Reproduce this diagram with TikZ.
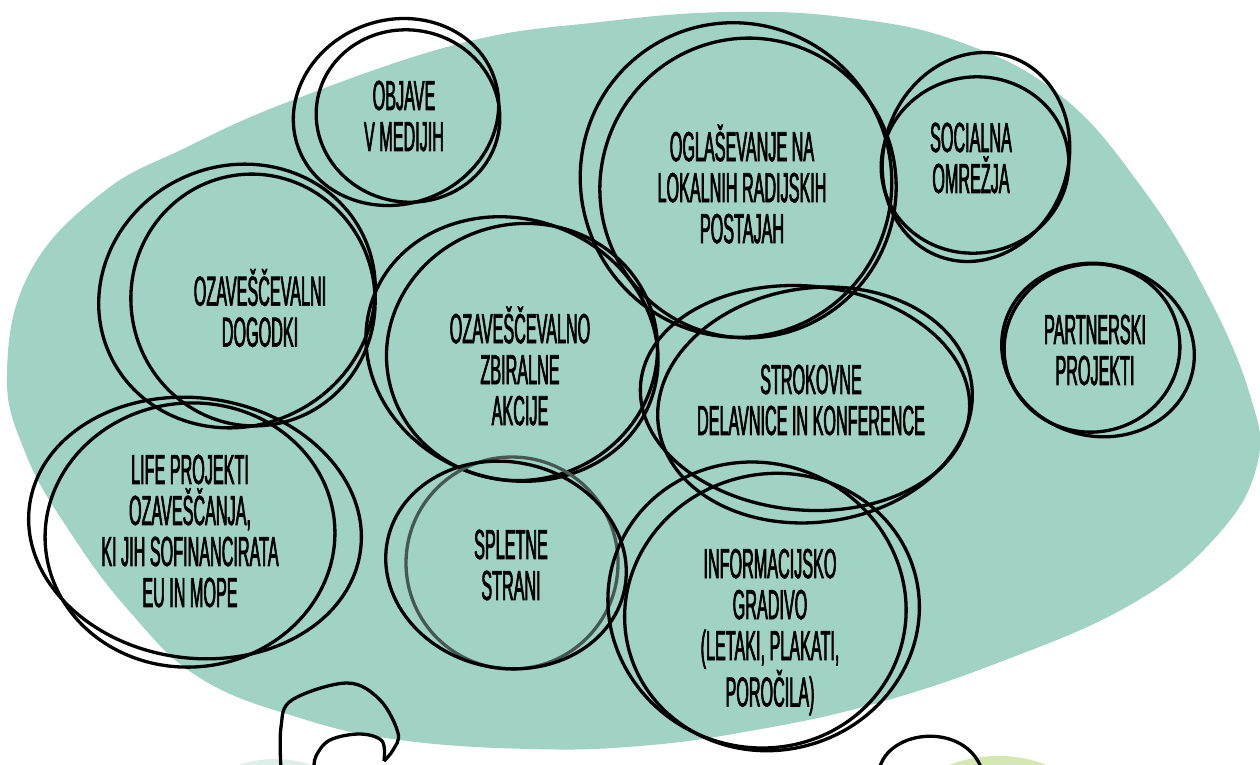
\documentclass[tikz,border=0pt]{standalone}
\usepackage{fontspec}
\setmainfont{Liberation Sans}[FakeStretch=0.385, FakeBold=1.5]
\definecolor{blobgreen}{RGB}{161,211,196}
\definecolor{mintpale}{RGB}{222,239,234}
\definecolor{limepale}{RGB}{214,232,178}
\definecolor{loopgray}{RGB}{70,88,82}
\tikzset{
  loopline/.style={line width=3.3pt, draw=black},
  grayloop/.style={line width=3.3pt, draw=loopgray},
  label/.style={align=center, inner sep=0pt, text=black,
    font=\fontsize{42}{41}\selectfont}
}
\begin{document}
\begin{tikzpicture}[x=1pt,y=-1pt]
\useasboundingbox (0,0) rectangle (1260,764);
\clip (0,0) rectangle (1260,764);
% background blob
\fill[blobgreen] plot[smooth cycle, tension=0.7] coordinates {
 (7,372) (30,272) (102,193) (185,148) (293,100) (462,43) (600,22) (730,12)
 (850,18) (960,42) (1060,95) (1140,185) (1205,290) (1250,395) (1257,465)
 (1215,538) (1130,605) (1000,662) (870,705) (750,731) (640,746) (530,749)
 (400,740) (300,718) (200,678) (130,612) (70,532) (25,452)};
% pale bottom shapes
\fill[mintpale] (275,800) ellipse [x radius=70, y radius=41];
\fill[limepale] (998,800) ellipse [x radius=80, y radius=44];
% loops
\draw[loopline, rotate around={20:(396,112)}] (396,112) ellipse [x radius=104, y radius=92];
\draw[loopline, rotate around={-10:(408,116)}] (408,116) ellipse [x radius=92, y radius=86];
\draw[loopline, rotate around={25:(237,296)}] (237,296) ellipse [x radius=140, y radius=130];
\draw[loopline, rotate around={10:(253,300)}] (253,300) ellipse [x radius=122, y radius=126];
\draw[loopline, rotate around={-20:(512,349)}] (512,349) ellipse [x radius=148, y radius=130];
\draw[loopline, rotate around={15:(522,352)}] (522,352) ellipse [x radius=136, y radius=128];
\draw[loopline, rotate around={30:(736,180)}] (736,180) ellipse [x radius=155, y radius=158];
\draw[loopline, rotate around={-15:(748,188)}] (748,188) ellipse [x radius=148, y radius=150];
\draw[loopline, rotate around={-20:(976,157)}] (976,157) ellipse [x radius=92, y radius=106];
\draw[loopline, rotate around={10:(975,165)}] (975,165) ellipse [x radius=94, y radius=88];
\draw[loopline, rotate around={-15:(1098,350)}] (1098,350) ellipse [x radius=97, y radius=86];
\draw[loopline, rotate around={10:(1092,348)}] (1092,348) ellipse [x radius=88, y radius=84];
\draw[loopline, rotate around={-5:(805,398)}] (805,398) ellipse [x radius=165, y radius=112];
\draw[loopline, rotate around={8:(815,405)}] (815,405) ellipse [x radius=158, y radius=117];
\draw[loopline, rotate around={-8:(195,528)}] (195,528) ellipse [x radius=167, y radius=130];
\draw[loopline, rotate around={5:(190,535)}] (190,535) ellipse [x radius=145, y radius=132];
\draw[grayloop] (512,563) ellipse [x radius=106, y radius=106];
\draw[loopline, rotate around={-12:(506,565)}] (506,565) ellipse [x radius=121, y radius=103];
\draw[loopline, rotate around={-20:(757,605)}] (757,605) ellipse [x radius=150, y radius=142];
\draw[loopline, rotate around={15:(772,612)}] (772,612) ellipse [x radius=148, y radius=138];
% bottom doodles
\coordinate (dA1) at (281,770);
\coordinate (dAtip) at (384,761);
\coordinate (dA2) at (314,770);
\draw[loopline, line join=round] plot[smooth, tension=0.6] coordinates {(dA1) (281,727) (292,700) (347,683) (380,700) (398,733) (393,750) (dAtip)};
\draw[loopline, line join=round] plot[smooth, tension=0.6] coordinates {(dAtip) (382,741) (360,734) (330,740) (316,756) (dA2)};
\coordinate (dB1) at (879,770);
\coordinate (dB2) at (982,770);
\draw[loopline] (dB1) .. controls (888,728) and (966,722) .. (dB2);
% labels
\node[label] (objave) at (404,116) {OBJAVE\\V MEDIJIH};
\node[label] (dogodki) at (260,308) {OZAVEŠČEVALNI\\DOGODKI};
\node[label] (akcije) at (520,366) {OZAVEŠČEVALNO\\ZBIRALNE\\AKCIJE};
\node[label] (radio) at (742,184) {OGLAŠEVANJE NA\\LOKALNIH RADIJSKIH\\POSTAJAH};
\node[label] (social) at (971,158) {SOCIALNA\\OMREŽJA};
\node[label] (partner) at (1095,350) {PARTNERSKI\\PROJEKTI};
\node[label] (strok) at (811,400) {STROKOVNE\\DELAVNICE IN KONFERENCE};
\node[label] (life) at (190,531) {LIFE PROJEKTI\\OZAVEŠČANJA,\\KI JIH SOFINANCIRATA\\EU IN MOPE};
\node[label] (splet) at (511,565) {SPLETNE\\STRANI};
\node[label] (gradivo) at (770,632) {INFORMACIJSKO\\GRADIVO\\(LETAKI, PLAKATI,\\POROČILA)};
\end{tikzpicture}
\end{document}
